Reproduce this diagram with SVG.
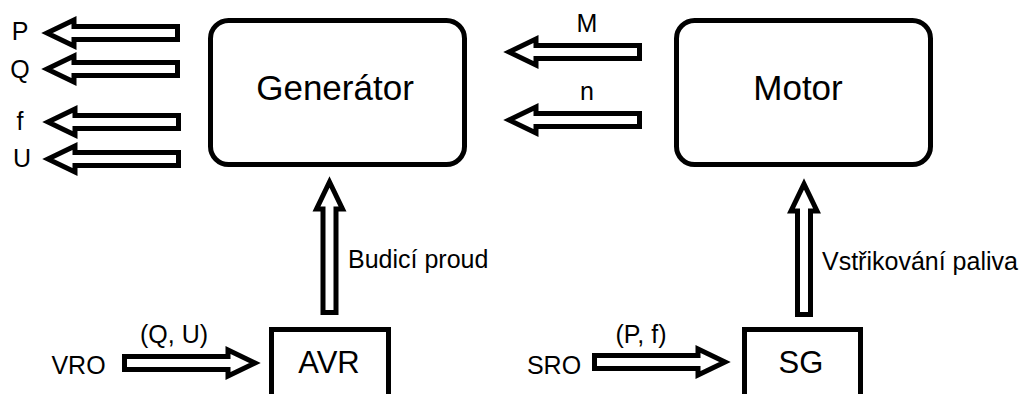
<svg xmlns="http://www.w3.org/2000/svg" width="1027" height="394" viewBox="0 0 1027 394">
<style>
.box{fill:#fff;stroke:#000;stroke-width:5}
.t{font-family:"Liberation Sans",Arial,sans-serif;fill:#000}
.big{font-size:35px}
.mid{font-size:31px}
.lab{font-size:25px}
.arr{fill:#fff;stroke:#000;stroke-width:5;stroke-linejoin:miter;stroke-miterlimit:6}
</style>
<defs>
<path id="ar" class="arr" d="M2.5,-6.5 H106 V-13 L133,0 L106,13 V6.5 H2.5 Z"/>
</defs>
<rect width="1027" height="394" fill="#fff"/>
<g id="connectors">
<use href="#ar" transform="translate(180,33) scale(-1,1)"/>
<use href="#ar" transform="translate(180,69) scale(-1,1)"/>
<use href="#ar" transform="translate(181,122) scale(-1,1)"/>
<use href="#ar" transform="translate(181,159) scale(-1,1)"/>
<use href="#ar" transform="translate(642,52) scale(-1,1)"/>
<use href="#ar" transform="translate(642,120) scale(-1,1)"/>
<use href="#ar" transform="translate(122,363)"/>
<use href="#ar" transform="translate(592,362)"/>
<use href="#ar" transform="translate(329.5,315) rotate(-90)"/>
<use href="#ar" transform="translate(804,317) rotate(-90)"/>
<text class="t lab" x="20" y="40" text-anchor="middle">P</text>
<text class="t lab" x="20" y="78" text-anchor="middle">Q</text>
<text class="t lab" x="20" y="130" text-anchor="middle">f</text>
<text class="t lab" x="22" y="167" text-anchor="middle">U</text>
<text class="t lab" x="587" y="32" text-anchor="middle">M</text>
<text class="t lab" x="587" y="100" text-anchor="middle">n</text>
<text class="t lab" x="348" y="268">Budicí proud</text>
<text class="t lab" x="822" y="270">Vstřikování paliva</text>
<text class="t lab" x="174" y="343" text-anchor="middle">(Q, U)</text>
<text class="t lab" x="641" y="343" text-anchor="middle">(P, f)</text>
</g>
<g id="generator">
<rect class="box" x="210.5" y="20.5" width="254" height="144" rx="18"/>
<text class="t big" x="335" y="100" text-anchor="middle">Generátor</text>
</g>
<g id="motor">
<rect class="box" x="676.5" y="20.5" width="254" height="144" rx="18"/>
<text class="t big" x="798" y="100" text-anchor="middle">Motor</text>
</g>
<g id="avr">
<rect class="box" x="271.5" y="329.5" width="117" height="100"/>
<text class="t mid" x="329" y="373" text-anchor="middle">AVR</text>
</g>
<g id="sg">
<rect class="box" x="744.5" y="329.5" width="116" height="100"/>
<text class="t mid" x="801" y="373" text-anchor="middle">SG</text>
</g>
<g id="vro">
<text class="t lab" x="78.5" y="374" text-anchor="middle">VRO</text>
</g>
<g id="sro">
<text class="t lab" x="554" y="374" text-anchor="middle">SRO</text>
</g>
</svg>
